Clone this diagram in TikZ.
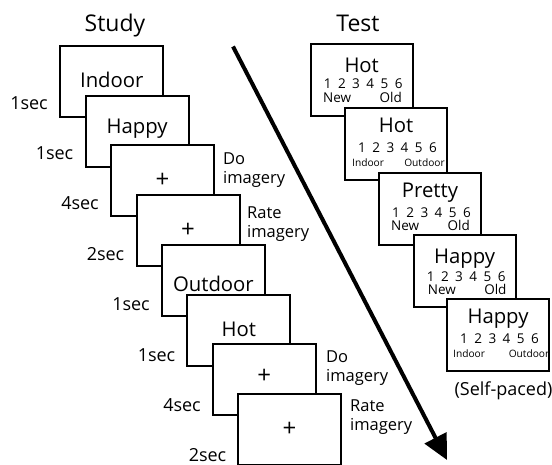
\documentclass[tikz,border=0pt]{standalone}
\usepackage{fontspec}
\setmainfont{Open Sans}
\usetikzlibrary{arrows.meta}
\begin{document}
\begin{tikzpicture}[x=1pt,y=-1pt,
  frame/.style={draw=black, line width=2pt, fill=white, minimum width=103pt, minimum height=71pt, anchor=north west, inner sep=0pt, outer sep=0pt},
  tframe/.style={frame, minimum width=102pt, minimum height=72pt},
  word/.style={anchor=base, inner sep=0pt, font=\fontsize{20.3}{20.3}\selectfont},
  plus/.style={anchor=center, inner sep=0pt, font=\fontsize{24}{24}\selectfont},
  title/.style={anchor=base, inner sep=0pt, font=\fontsize{23}{23}\selectfont},
  dur/.style={anchor=base east, inner sep=0pt, font=\fontsize{18}{18}\selectfont},
  side/.style={anchor=base west, inner sep=0pt, font=\fontsize{16.5}{16.5}\selectfont},
  digit/.style={anchor=base, inner sep=0pt, font=\fontsize{13.5}{13.5}\selectfont},
  scale1/.style={inner sep=0pt, font=\fontsize{13.5}{13.5}\selectfont},
  scale2/.style={inner sep=0pt, font=\fontsize{10.2}{10.2}\selectfont},
  note/.style={anchor=base, inner sep=0pt, font=\fontsize{18}{18}\selectfont}
]
\useasboundingbox (0,0) rectangle (552,464);

% Titles
\node[title] (study) at (115,31) {Study};
\node[title] (test) at (358,31) {Test};

% Arrow
\coordinate (a0) at (233,46.5);
\coordinate (a1) at (447,460);
\draw[line width=4pt, -{Triangle[length=25pt,width=24pt]}] (a0) -- (a1);

% Study boxes
\node[frame] (s1) at (60.3,46) {};
\node[word] (w1) at ([xshift=51.5pt,yshift=-41pt]s1.north west) {Indoor};
\node[frame] (s2) at (85.7,95.7) {};
\node[word] (w2) at ([xshift=51.5pt,yshift=-37.5pt]s2.north west) {Happy};
\node[frame] (s3) at (111.1,145.4) {};
\node[plus] (w3) at ([yshift=1pt]s3.center) {+};
\node[frame] (s4) at (136.5,195.1) {};
\node[plus] (w4) at (s4.center) {+};
\node[frame] (s5) at (161.9,244.8) {};
\node[word] (w5) at ([xshift=51.5pt,yshift=-47pt]s5.north west) {Outdoor};
\node[frame] (s6) at (187.3,294.5) {};
\node[word] (w6) at ([xshift=51.5pt,yshift=-41.5pt]s6.north west) {Hot};
\node[frame] (s7) at (212.7,344.2) {};
\node[plus] (w7) at ([yshift=3pt]s7.center) {+};
\node[frame] (s8) at (238.1,393.9) {};
\node[plus] (w8) at (s8.center) {+};

% Durations
\node[dur] (d1) at (48,109) {1sec};
\node[dur] (d2) at (73.5,159.4) {1sec};
\node[dur] (d3) at (99,209.8) {4sec};
\node[dur] (d4) at (124.5,260.2) {2sec};
\node[dur] (d5) at (150,310.6) {1sec};
\node[dur] (d6) at (175.5,361) {1sec};
\node[dur] (d7) at (201,411.4) {4sec};
\node[dur] (d8) at (226.5,461) {2sec};

% Side notes
\node[side] (n1a) at (223,164) {Do};
\node[side] (n1b) at (223,183) {imagery};
\node[side] (n2a) at (247,218) {Rate};
\node[side] (n2b) at (247,237) {imagery};
\node[side] (n3a) at (326,362) {Do};
\node[side] (n3b) at (326,381) {imagery};
\node[side] (n4a) at (350,411.7) {Rate};
\node[side] (n4b) at (350,430) {imagery};

% Test boxes
\newcommand{\digitrow}[3]{% name, left, baseline
  \foreach \k [count=\c from 0] in {1,...,6}{
    \node[digit] (#1-\k) at ({#2+17+14.2*\c},#3) {\k};
  }}
\node[tframe] (t1) at (310.7,44) {};
\node[word] (tw1) at (361.7,72) {Hot};
\digitrow{td1}{310.7}{88}
\node[scale1, anchor=base west] (tl1) at (323,102) {New};
\node[scale1, anchor=base east] (tr1) at (402,102) {Old};

\node[tframe] (t2) at (345,108.3) {};
\node[word] (tw2) at (396,132) {Hot};
\digitrow{td2}{345}{152}
\node[scale2, anchor=base west] (tl2) at (352,166) {Indoor};
\node[scale2, anchor=base east] (tr2) at (445,166) {Outdoor};

\node[tframe] (t3) at (379,173.3) {};
\node[word] (tw3) at (430,197) {Pretty};
\digitrow{td3}{379}{217}
\node[scale1, anchor=base west] (tl3) at (391,230) {New};
\node[scale1, anchor=base east] (tr3) at (470,230) {Old};

\node[tframe] (t4) at (413.7,235) {};
\node[word] (tw4) at (464.7,263) {Happy};
\digitrow{td4}{413.7}{281.5}
\node[scale1, anchor=base west] (tl4) at (427.7,294) {New};
\node[scale1, anchor=base east] (tr4) at (506.7,294) {Old};

\node[tframe] (t5) at (447,299.3) {};
\node[word] (tw5) at (498,323) {Happy};
\digitrow{td5}{447}{343}
\node[scale2, anchor=base west] (tl5) at (453,357) {Indoor};
\node[scale2, anchor=base east] (tr5) at (549.5,357) {Outdoor};

\node[note] (self) at (503.5,395) {(Self-paced)};
\end{tikzpicture}
\end{document}
